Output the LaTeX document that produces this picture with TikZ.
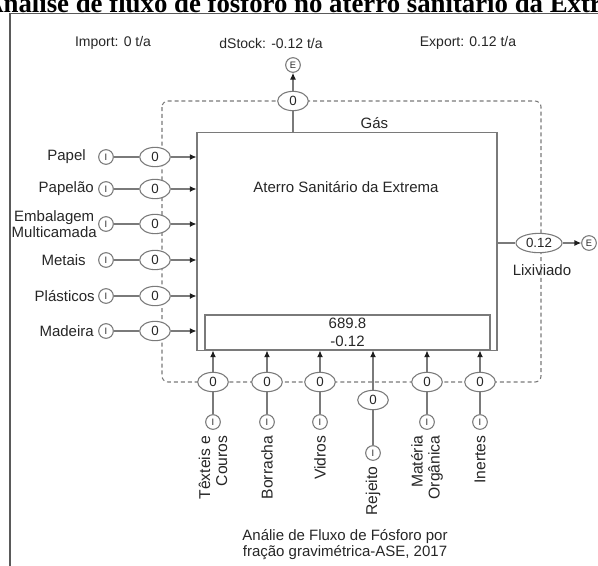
\documentclass[tikz,border=0pt]{standalone}
\usepackage{fontspec}
\setmainfont{Liberation Sans}
\newfontfamily\headfont{Liberation Serif}
\usetikzlibrary{shapes.geometric, arrows.meta}

\definecolor{linegray}{HTML}{7A7A7A}
\definecolor{inkgray}{HTML}{262626}
\definecolor{tipgray}{HTML}{1E1E1E}
\definecolor{framegray}{HTML}{5A5A5A}

\begin{document}
\begin{tikzpicture}[x=0.75pt, y=-0.75pt,
  every node/.style={text=inkgray, font=\fontsize{11.25}{13}\selectfont},
  conn/.style={draw=linegray, line width=0.8pt},
  flowarrow/.style={conn, -{Latex[length=5pt, width=4.5pt, color=tipgray]}},
  flowval/.style={ellipse, draw=linegray, fill=white, line width=0.8pt,
    minimum width=23pt, minimum height=14.5pt, inner sep=0pt,
    font=\fontsize{10}{12}\selectfont},
  term/.style={circle, draw=linegray, fill=white, line width=0.8pt,
    minimum size=11pt, inner sep=0pt, font=\fontsize{7}{8}\selectfont},
  boxline/.style={draw=linegray, line width=0.8pt},
  sideways/.style={rotate=90, anchor=east, align=right,
    font=\fontsize{11.75}{12.75}\selectfont},
  balance/.style={font=\fontsize{10.5}{12}\selectfont},
]
\useasboundingbox (0,0) rectangle (598,565);
\clip (0,0) rectangle (598,565);

% heading and page frame
\node[anchor=base west, text=black, inner sep=0pt,
  font=\headfont\bfseries\fontsize{20.1}{24}\selectfont] (title) at (-16,12)
  {Análise de fluxo de fósforo no aterro sanitário da Extrema};
\draw[draw=framegray, line width=1pt] (598,13.5) -- (10,13.5) -- (10,566);

% balance figures
\node[balance] (imp) at (113,43) {Import: 0 t/a};
\node[balance] (dst) at (271,43) {dStock: -0.12 t/a};
\node[balance] (exp) at (468,43) {Export: 0.12 t/a};

% system boundary
\draw[draw=linegray, line width=0.8pt, dash pattern=on 3pt off 2.2pt,
  rounded corners=4.5pt] (162,101) rectangle (541,382);

% process and its stock
\node[boxline, rectangle, minimum width=225pt, minimum height=163.5pt,
  inner sep=0pt] (proc) at (347,241.5) {};
\node (proclbl) at (346,187) {Aterro Sanitário da Extrema};
\node[boxline, rectangle, minimum width=213.75pt, minimum height=26.25pt,
  inner sep=0pt, align=center, font=\fontsize{11.25}{13.5}\selectfont]
  (stock) at (347.5,332.5) {689.8\\-0.12};

% gas export
\node[flowval] (fgas) at (293,101) {0};
\node[term] (egas) at (293,65) {E};
\node[anchor=west] (lgas) at (356,123) {Gás};
\draw[conn] (proc.north -| fgas) -- (fgas);
\draw[flowarrow] (fgas) -- (egas);

% leachate export
\node[flowval, minimum width=34.5pt] (flix) at (539,243) {0.12};
\node[term] (elix) at (589,243) {E};
\node (llix) at (542,270) {Lixiviado};
\draw[conn] (proc.east |- flix) -- (flix);
\draw[flowarrow] (flix) -- (elix);

% imports from the left
\foreach \n/\y/\lx/\txt in {
    1/157/86/Papel,
    2/189/94/Papelão,
    3/224/97/{Embalagem\\Multicamada},
    4/260/86/Metais,
    5/296/95/Plásticos,
    6/331/94/Madeira} {
  \node[term] (il\n) at (106,\y) {I};
  \node[flowval] (fl\n) at (155,\y) {0};
  \node[anchor=east, align=center, inner sep=0pt,
    font=\fontsize{11.25}{11.5}\selectfont] (ll\n) at (\lx,\y) {\txt};
  \draw[conn] (il\n) -- (fl\n);
  \draw[flowarrow] (fl\n) -- (fl\n -| proc.west);
}

% imports from below
\foreach \n/\x/\fy/\iy/\txt in {
    1/213/382/422/{Têxteis e\\Couros},
    2/267/382/422/Borracha,
    3/320/382/422/Vidros,
    4/373/400/453/Rejeito,
    5/427/382/422/{Matéria\\Orgânica},
    6/480/382/422/Inertes} {
  \node[term] (ib\n) at (\x,\iy) {I};
  \node[flowval] (fb\n) at (\x,\fy) {0};
  \node[sideways] (lb\n) at (\x,\iy+9) {\txt};
  \draw[conn] (ib\n) -- (fb\n);
  \draw[flowarrow] (fb\n) -- (fb\n |- stock.south);
}

% caption
\node[align=center, font=\fontsize{11.25}{12}\selectfont] (cap) at (345,545)
  {Análie de Fluxo de Fósforo por\\fração gravimétrica-ASE, 2017};
\end{tikzpicture}
\end{document}
